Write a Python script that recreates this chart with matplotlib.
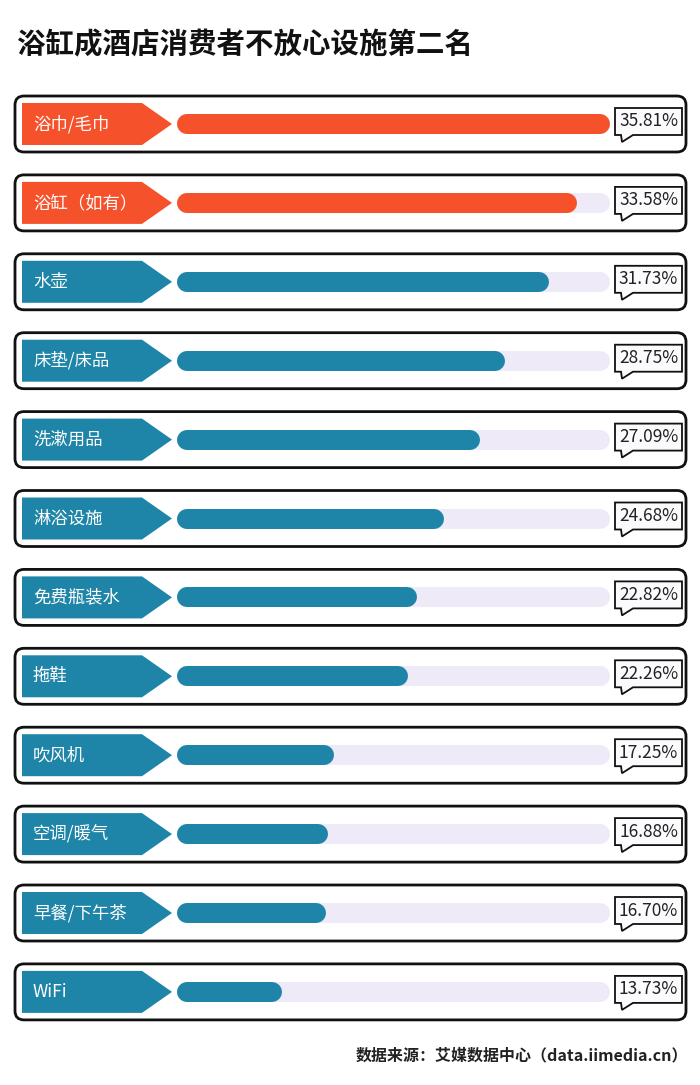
import matplotlib
matplotlib.use('Agg')
import matplotlib.pyplot as plt
from matplotlib.patches import FancyBboxPatch, Polygon

plt.rcParams['font.family'] = ['Noto Sans CJK SC', 'DejaVu Sans']

labels = ['浴巾/毛巾', '浴缸（如有）', '水壶', '床垫/床品', '洗漱用品', '淋浴设施',
          '免费瓶装水', '拖鞋', '吹风机', '空调/暖气', '早餐/下午茶', 'WiFi']
values = [35.81, 33.58, 31.73, 28.75, 27.09, 24.68, 22.82, 22.26, 17.25, 16.88, 16.70, 13.73]
n_top = 2  # top two highlighted

title = '浴缸成酒店消费者不放心设施第二名'
source = '数据来源：艾媒数据中心（data.iimedia.cn）'

orange = '#f5522c'
teal = '#1e85a8'
track = '#eeeaf8'
W, H = 700, 1085

fig = plt.figure(figsize=(W / 100, H / 100), dpi=100)
ax = fig.add_axes([0, 0, 1, 1])
ax.set_xlim(0, W)
ax.set_ylim(H, 0)
ax.axis('off')

# bar axes: x in percent, y in pixels
bx0, bx1 = 187, 600
lo = 8.05
bax = fig.add_axes([bx0 / W, 0, (bx1 - bx0) / W, 1])
bax.set_xlim(lo, max(values))
bax.set_ylim(H, 0)
bax.axis('off')

ax.text(17, 45, title, fontsize=20.5, fontweight='heavy', color='#111111',
        ha='left', va='center')

pitch = 78.9
for i, (lab, v) in enumerate(zip(labels, values)):
    yc = 124 + pitch * i
    col = orange if i < n_top else teal
    # outer box
    ax.add_patch(FancyBboxPatch((15, yc - 28), 671, 56,
                                boxstyle='round,pad=0,rounding_size=9',
                                fc='white', ec='#111111', lw=2, zorder=1))
    # arrow label
    ax.add_patch(Polygon([(22, yc - 21), (142, yc - 21), (172, yc),
                          (142, yc + 21), (22, yc + 21)],
                         closed=True, fc=col, ec='none', zorder=2))
    ax.text(33, yc, lab, fontsize=12.5, color='white', ha='left', va='center', zorder=3)
    # value bubble
    ax.add_patch(Polygon([(615, yc - 16), (682, yc - 16), (682, yc + 11),
                          (633, yc + 11), (622, yc + 18), (621, yc + 11),
                          (615, yc + 11)],
                         closed=True, fc='#fbfafd', ec='#111111', lw=1.3, zorder=2))
    ax.text(648.5, yc - 2.5, f'{v:.2f}%', fontsize=12.5, color='#222222',
            ha='center', va='center', zorder=3)
    # track + bar
    bax.plot([lo, max(values)], [yc, yc], color=track, lw=14.4,
             solid_capstyle='round', zorder=2, clip_on=False)
    bax.plot([lo, v], [yc, yc], color=col, lw=14.4,
             solid_capstyle='round', zorder=3, clip_on=False)

ax.text(688, 1055, source, fontsize=11.5, fontweight='bold', color='#222222',
        ha='right', va='center')

fig.savefig('out.png', dpi=100, facecolor='white')
